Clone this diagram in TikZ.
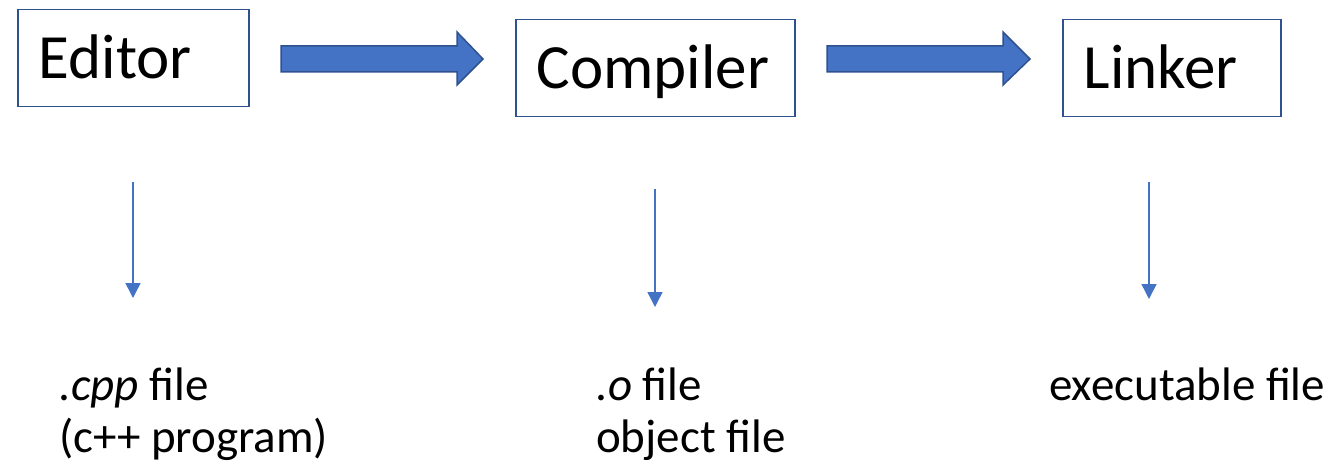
\documentclass[tikz,border=0pt]{standalone}
\usepackage{fontspec}
\setmainfont{Carlito}
\usetikzlibrary{arrows.meta}
\definecolor{afill}{HTML}{4472C4}
\definecolor{aline}{HTML}{2F528F}
\tikzset{
  stagebox/.style={draw=aline, line width=1.5pt, rectangle, minimum height=97pt,
    inner xsep=21pt, inner ysep=0pt, align=left, text height=41pt, text depth=0pt,
    font=\fontsize{63}{74}\selectfont, anchor=north west},
  blockarrow/.style={fill=afill, draw=aline, line width=1.5pt, line join=miter},
  outarrow/.style={draw=afill, line width=1.5pt, -{Triangle[width=15pt,length=15pt]}},
  outtext/.style={anchor=base west, align=left, inner sep=0pt,
    font=\fontsize{47}{52}\selectfont},
}
\begin{document}
\begin{tikzpicture}[x=1pt,y=-1pt]
\useasboundingbox (0,0) rectangle (1336,465);
% stage boxes
\node[stagebox, text width=189pt] (ed) at (17,9) {Editor};
\node[stagebox, text width=237pt] (co) at (515,19) {Compiler};
\node[stagebox, text width=176pt] (li) at (1062,19) {Linker};
% block arrows
\draw[blockarrow] (281,46) -- (457,46) -- (457,32) -- (483,59) -- (457,85) -- (457,72) -- (281,72) -- cycle;
\draw[blockarrow] (827,46) -- (1003,46) -- (1003,32) -- (1030,59) -- (1003,85) -- (1003,72) -- (827,72) -- cycle;
% output arrows
\coordinate (e1) at (133,182); \coordinate (e2) at (133,298);
\coordinate (c1) at (655,189); \coordinate (c2) at (655,307);
\coordinate (l1) at (1149,182); \coordinate (l2) at (1149,299);
\draw[outarrow] (e1) -- (e2);
\draw[outarrow] (c1) -- (c2);
\draw[outarrow] (l1) -- (l2);
% output texts (base anchor = last line)
\node[outtext] (et) at (59,452) {\textit{.cpp} file\\(c++ program)};
\node[outtext] (ct) at (596,452) {\textit{.o} file\\object file};
\node[outtext] (lt) at (1049,400) {executable file};
\end{tikzpicture}
\end{document}
